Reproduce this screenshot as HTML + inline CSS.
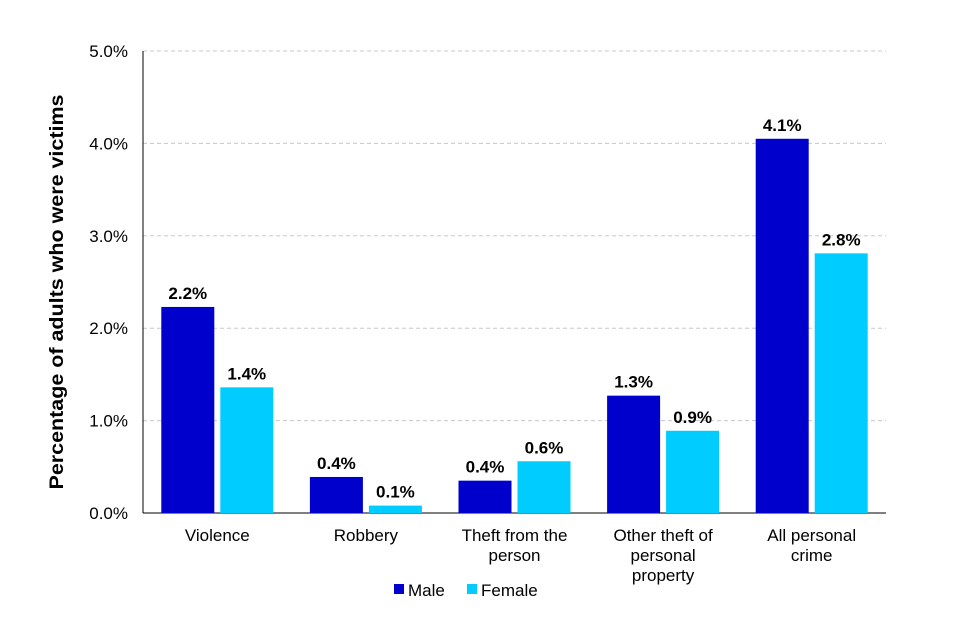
<!DOCTYPE html>
<html><head><meta charset="utf-8"><style>
html,body{margin:0;padding:0;background:#fff;}
svg{display:block;font-family:"Liberation Sans",Arial,sans-serif;}
</style></head><body>
<svg id="chart" width="960" height="640"></svg>
<script>
const categories=[["Violence"],["Robbery"],["Theft from the","person"],["Other theft of","personal","property"],["All personal","crime"]];
const maleValues=[2.23,0.39,0.35,1.27,4.05];
const femaleValues=[1.36,0.08,0.56,0.89,2.81];
const maleLabels=["2.2%","0.4%","0.4%","1.3%","4.1%"];
const femaleLabels=["1.4%","0.1%","0.6%","0.9%","2.8%"];
const yTicks=[0,1,2,3,4,5];
const yTickLabels=["0.0%","1.0%","2.0%","3.0%","4.0%","5.0%"];

const NS="http://www.w3.org/2000/svg";
const svg=document.getElementById('chart');
const L=143,R=886,T=51,B=513,yMax=5;
const y=v=>B-(v/yMax)*(B-T);
const bandW=(R-L)/categories.length;
const xc=i=>L+bandW*(i+0.5);
const barW=53,gap=6;
function mk(tag,attrs,parent){const e=document.createElementNS(NS,tag);for(const k in attrs)e.setAttribute(k,attrs[k]);(parent||svg).appendChild(e);return e;}

yTicks.forEach((t,i)=>{
  if(t>0){const g=mk('line',{x1:L,x2:R,y1:y(t),y2:y(t),stroke:'#c8c8c8','stroke-dasharray':'4,3'});
  
  }
  const tx=mk('text',{x:128,y:y(t)+6,'text-anchor':'end','font-size':17,fill:'#000'});
  tx.textContent=yTickLabels[i];
  
  
});
const ax=mk('line',{x1:L,x2:L,y1:T,y2:B,stroke:'#000'});


const bx=mk('line',{x1:L,x2:R,y1:B,y2:B,stroke:'#000'});



categories.forEach((c,i)=>{
  const mx=xc(i)-gap/2-barW, fx=xc(i)+gap/2;
  const mb=mk('rect',{x:mx,y:y(maleValues[i]),width:barW,height:B-y(maleValues[i]),fill:'#0000cc'});
  
  
  const fb=mk('rect',{x:fx,y:y(femaleValues[i]),width:barW,height:B-y(femaleValues[i]),fill:'#00ccff'});
  
  
  const ml=mk('text',{x:mx+barW/2,y:y(maleValues[i])-8,'text-anchor':'middle','font-size':17,'font-weight':'bold'});
  ml.textContent=maleLabels[i];
  
  
  const fl=mk('text',{x:fx+barW/2,y:y(femaleValues[i])-8,'text-anchor':'middle','font-size':17,'font-weight':'bold'});
  fl.textContent=femaleLabels[i];
  
  
  const ct=mk('text',{x:xc(i),y:541,'text-anchor':'middle','font-size':17});
  
  
  c.forEach((line,j)=>{const ts=mk('tspan',{x:xc(i),dy:j?20:0},ct);ts.textContent=line;});
});

const yt=mk('text',{transform:'translate(63,292) rotate(-90)','text-anchor':'middle','font-size':19,'font-weight':'bold',textLength:395,lengthAdjust:'spacingAndGlyphs'});
yt.textContent='Percentage of  adults who were victims';



const lg=mk('g',{});


const s1=mk('rect',{x:394,y:584,width:10,height:10,fill:'#0000cc'},lg);


const t1=mk('text',{x:408,y:596,'font-size':17},lg);t1.textContent='Male';


const s2=mk('rect',{x:467,y:584,width:10,height:10,fill:'#00ccff'},lg);


const t2=mk('text',{x:481,y:596,'font-size':17},lg);t2.textContent='Female';


</script>
</body></html>
